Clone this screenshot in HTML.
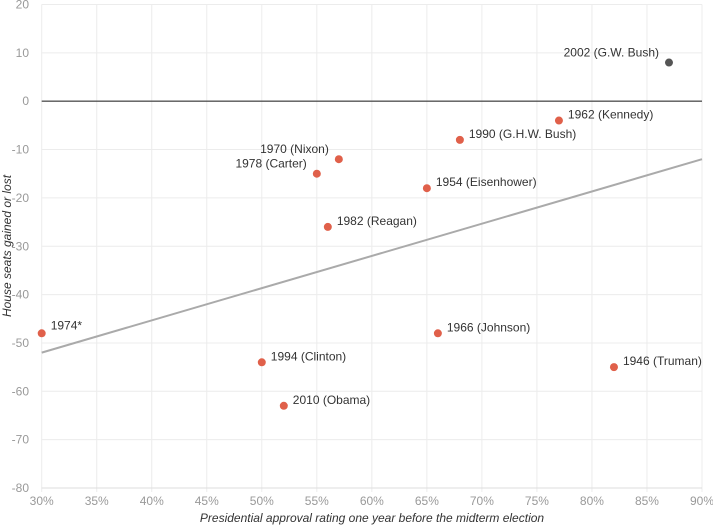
<!DOCTYPE html>
<html><head><meta charset="utf-8"><style>
body{margin:0;background:#fff}
svg{display:block;font-family:"Liberation Sans",sans-serif}
</style></head><body>
<svg id="chart" width="713" height="526"></svg>
<script>
const xTicks=[30,35,40,45,50,55,60,65,70,75,80,85,90];
const yTicks=[20,10,0,-10,-20,-30,-40,-50,-60,-70,-80];
const labels=["2002 (G.W. Bush)","1962 (Kennedy)","1990 (G.H.W. Bush)","1970 (Nixon)","1978 (Carter)","1954 (Eisenhower)","1982 (Reagan)","1974*","1966 (Johnson)","1994 (Clinton)","1946 (Truman)","2010 (Obama)"];
const approval=[87,77,68,57,55,65,56,30,66,50,82,52];
const seats=[8,-4,-8,-12,-15,-18,-26,-48,-48,-54,-55,-63];
const labelSide=["left","right","right","left","left","right","right","above","right","right","right","right"];
const trend=[[30,-52],[90,-12]];
const ns="http://www.w3.org/2000/svg";
const svg=document.getElementById('chart');
const X0=41.7,X1=702,Y0=4.5,Y1=488;
const xs=v=>X0+(v-30)/60*(X1-X0);
const ys=v=>Y0+(20-v)/100*(Y1-Y0);
function mk(t,a,p){const e=document.createElementNS(ns,t);for(const k in a)e.setAttribute(k,a[k]);(p||svg).appendChild(e);return e;}
xTicks.forEach(v=>{
 const l=mk('line',{x1:xs(v),x2:xs(v),y1:Y0,y2:Y1+4,stroke:'#ececec'});
 
 
 const t=mk('text',{x:xs(v),y:505,'text-anchor':'middle','font-size':12,fill:'#999'});t.textContent=v+'%';
 
 
});
yTicks.forEach(v=>{
 const l=mk('line',{x1:X0,x2:X1,y1:ys(v),y2:ys(v),stroke:v===0?'#555':(v===-80?'#ddd':'#ececec'),'stroke-width':v===0?1.3:1});
 
 
 const t=mk('text',{x:29,y:ys(v)+4,'text-anchor':'end','font-size':12,fill:'#999'});t.textContent=v;
 
 
});
const tl=mk('line',{x1:xs(trend[0][0]),y1:ys(trend[0][1]),x2:xs(trend[1][0]),y2:ys(trend[1][1]),stroke:'#aaa','stroke-width':2});


approval.forEach((a,i)=>{
 const cx=xs(a),cy=ys(seats[i]);
 const c=mk('circle',{cx,cy,r:4,fill:i===0?'#555':'#e0604a'});
 
 
 let x,y,anc;
 if(labelSide[i]==='left'){x=cx-10;y=cy-6;anc='end';}
 else if(labelSide[i]==='above'){x=cx+9;y=cy-4;anc='start';}
 else {x=cx+9;y=cy-2;anc='start';}
 const t=mk('text',{x,y,'text-anchor':anc,'font-size':12,fill:'#333'});t.textContent=labels[i];
 
 
});
const xt=mk('text',{x:372,y:522,'text-anchor':'middle','font-size':12,'font-style':'italic',fill:'#333'});xt.textContent='Presidential approval rating one year before the midterm election';


const yt=mk('text',{x:0,y:0,transform:'translate(11,246) rotate(-90)','text-anchor':'middle','font-size':12,'font-style':'italic',fill:'#333'});yt.textContent='House seats gained or lost';


</script>
</body></html>
